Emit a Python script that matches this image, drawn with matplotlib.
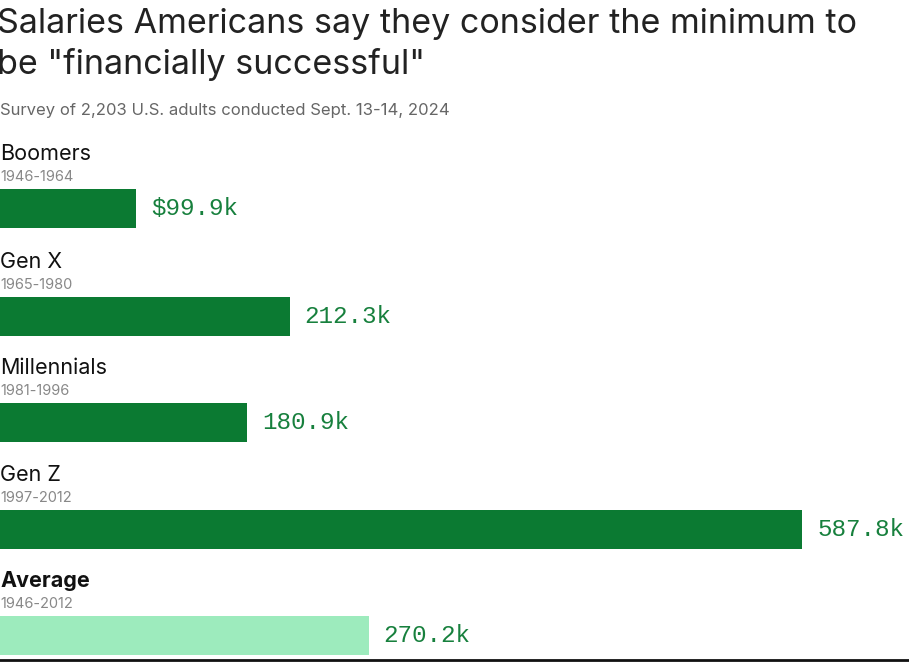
import matplotlib
matplotlib.use("Agg")
import matplotlib.pyplot as plt

groups = ["Boomers", "Gen X", "Millennials", "Gen Z", "Average"]
years = ["1946-1964", "1965-1980", "1981-1996", "1997-2012", "1946-2012"]
values = [99.9, 212.3, 180.9, 587.8, 270.2]
labels = ["$99.9k", "212.3k", "180.9k", "587.8k", "270.2k"]
colors = ["#0b7a32", "#0b7a32", "#0b7a32", "#0b7a32", "#9debbd"]

W, H = 909, 664
fig = plt.figure(figsize=(W/100, H/100), dpi=100)
ax = fig.add_axes([0, 0, 1, 1])
ax.set_xlim(0, W / (802 / 587.8))
ax.set_ylim(H, 0)
ax.axis("off")

fam = ["Inter", "DejaVu Sans"]
fig.text(-0.003, 1 - 8/H, 'Salaries Americans say they consider the minimum to\nbe "financially successful"',
         ha="left", va="top", fontsize=24.5, family=fam, color="#222222", linespacing=1.3)
fig.text(0.0, 1 - 111/H, "Survey of 2,203 U.S. adults conducted Sept. 13-14, 2024",
         ha="left", va="center", fontsize=12, family=fam, color="#666666")

tops = [189, 297, 403, 510, 616]
bh = 39
for g, yr, v, lab, c, t in zip(groups, years, values, labels, colors, tops):
    ax.barh(t + bh/2, v, height=bh, color=c, left=0)
    ax.text(0, t - 35, g, ha="left", va="center", fontsize=15.5, family=fam,
            color="#111111", fontweight="bold" if g == "Average" else "normal")
    ax.text(0, t - 12, yr, ha="left", va="center", fontsize=10.5, family=fam, color="#888888")
    ax.text(v + 11, t + bh/2, lab, ha="left", va="center", fontsize=17.5,
            family="Liberation Mono", color="#17803d")

ax.plot([0, ax.get_xlim()[1]], [660, 660], color="#111111", lw=2, clip_on=False)
fig.savefig("out.png", dpi=100)
